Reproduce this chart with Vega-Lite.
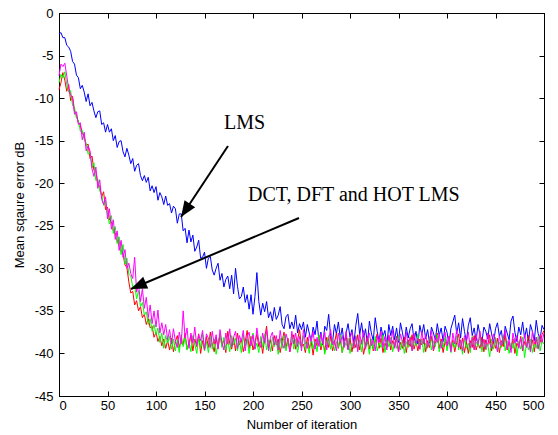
{
"$schema":"https://vega.github.io/schema/vega-lite/v6.json",
"width":485,"height":383,
"autosize":{"type":"none"},
"padding":{"left":59,"top":13,"right":14,"bottom":39},
"background":"white",
"config":{"view":{"stroke":"black","strokeWidth":1},
"axis":{"labelFont":"Liberation Sans","titleFont":"Liberation Sans","labelFontSize":13,"titleFontSize":13,"labelColor":"black","titleColor":"black","titleFontWeight":"normal","domainColor":"black","tickColor":"black","grid":false}},
"datasets":{
"arrows":[{"name":"LMS","x1":174.2,"y1":-15.63,"x2":125.8,"y2":-23.97},{"name":"TR","x1":247.4,"y1":-24.09,"x2":74.2,"y2":-32.43}],
"notes":[{"label":"LMS","x":170.1,"y":-13.63},{"label":"DCT, DFT and HOT LMS","x":194.8,"y":-22.06}],
"mse":[
{"i":0,"LMS":-2.5,"DCT":-9.0,"DFT":-8.2,"HOT":-7.4},
{"i":2,"LMS":-2.3,"DCT":-8.2,"DFT":-7.2,"HOT":-6.0},
{"i":4,"LMS":-2.9,"DCT":-7.0,"DFT":-7.6,"HOT":-6.3},
{"i":6,"LMS":-2.9,"DCT":-7.9,"DFT":-6.9,"HOT":-5.9},
{"i":8,"LMS":-3.8,"DCT":-9.2,"DFT":-8.4,"HOT":-7.4},
{"i":10,"LMS":-4.0,"DCT":-8.4,"DFT":-9.3,"HOT":-8.9},
{"i":12,"LMS":-4.5,"DCT":-10.3,"DFT":-9.1,"HOT":-9.6},
{"i":14,"LMS":-5.7,"DCT":-9.8,"DFT":-10.9,"HOT":-10.0},
{"i":16,"LMS":-6.0,"DCT":-11.5,"DFT":-11.1,"HOT":-11.9},
{"i":18,"LMS":-7.3,"DCT":-12.0,"DFT":-12.4,"HOT":-11.6},
{"i":20,"LMS":-7.6,"DCT":-12.9,"DFT":-12.6,"HOT":-13.1},
{"i":22,"LMS":-8.9,"DCT":-13.2,"DFT":-13.9,"HOT":-12.9},
{"i":24,"LMS":-8.5,"DCT":-14.1,"DFT":-13.8,"HOT":-14.9},
{"i":26,"LMS":-9.3,"DCT":-14.5,"DFT":-14.9,"HOT":-14.0},
{"i":28,"LMS":-10.4,"DCT":-15.6,"DFT":-15.3,"HOT":-16.2},
{"i":30,"LMS":-9.5,"DCT":-15.4,"DFT":-16.6,"HOT":-15.6},
{"i":32,"LMS":-10.9,"DCT":-17.1,"DFT":-16.4,"HOT":-16.2},
{"i":34,"LMS":-10.5,"DCT":-16.8,"DFT":-18.2,"HOT":-18.3},
{"i":36,"LMS":-11.5,"DCT":-18.5,"DFT":-17.6,"HOT":-19.2},
{"i":38,"LMS":-12.3,"DCT":-18.6,"DFT":-19.7,"HOT":-18.1},
{"i":40,"LMS":-11.6,"DCT":-20.0,"DFT":-19.5,"HOT":-20.6},
{"i":42,"LMS":-11.5,"DCT":-20.4,"DFT":-20.9,"HOT":-19.6},
{"i":44,"LMS":-13.1,"DCT":-21.6,"DFT":-21.3,"HOT":-21.9},
{"i":46,"LMS":-12.9,"DCT":-21.0,"DFT":-22.6,"HOT":-22.5},
{"i":48,"LMS":-14.0,"DCT":-23.1,"DFT":-22.0,"HOT":-21.6},
{"i":50,"LMS":-13.1,"DCT":-22.8,"DFT":-23.7,"HOT":-24.2},
{"i":52,"LMS":-14.0,"DCT":-24.3,"DFT":-24.8,"HOT":-23.0},
{"i":54,"LMS":-13.6,"DCT":-24.5,"DFT":-23.8,"HOT":-25.4},
{"i":56,"LMS":-15.0,"DCT":-25.6,"DFT":-25.9,"HOT":-24.3},
{"i":58,"LMS":-14.4,"DCT":-25.8,"DFT":-25.1,"HOT":-26.6},
{"i":60,"LMS":-15.8,"DCT":-26.9,"DFT":-27.1,"HOT":-25.6},
{"i":62,"LMS":-15.1,"DCT":-26.7,"DFT":-26.3,"HOT":-27.9},
{"i":64,"LMS":-15.0,"DCT":-28.0,"DFT":-28.4,"HOT":-26.7},
{"i":66,"LMS":-16.3,"DCT":-28.3,"DFT":-27.2,"HOT":-28.7},
{"i":68,"LMS":-16.9,"DCT":-29.6,"DFT":-29.5,"HOT":-27.8},
{"i":70,"LMS":-15.9,"DCT":-29.9,"DFT":-28.8,"HOT":-30.0},
{"i":72,"LMS":-16.7,"DCT":-31.6,"DFT":-30.7,"HOT":-29.4},
{"i":74,"LMS":-17.7,"DCT":-32.9,"DFT":-30.9,"HOT":-30.6},
{"i":76,"LMS":-17.1,"DCT":-32.7,"DFT":-32.2,"HOT":-31.2},
{"i":78,"LMS":-18.6,"DCT":-34.3,"DFT":-32.0,"HOT":-28.7},
{"i":80,"LMS":-17.9,"DCT":-33.8,"DFT":-33.6,"HOT":-32.8},
{"i":82,"LMS":-17.7,"DCT":-35.0,"DFT":-32.6,"HOT":-31.9},
{"i":84,"LMS":-19.1,"DCT":-34.5,"DFT":-34.5,"HOT":-33.9},
{"i":86,"LMS":-19.7,"DCT":-35.8,"DFT":-34.0,"HOT":-32.4},
{"i":88,"LMS":-19.1,"DCT":-35.4,"DFT":-35.5,"HOT":-34.7},
{"i":90,"LMS":-19.9,"DCT":-36.6,"DFT":-35.1,"HOT":-33.4},
{"i":92,"LMS":-19.3,"DCT":-35.9,"DFT":-36.6,"HOT":-35.8},
{"i":94,"LMS":-20.9,"DCT":-37.0,"DFT":-35.9,"HOT":-34.3},
{"i":96,"LMS":-20.3,"DCT":-36.8,"DFT":-37.4,"HOT":-36.5},
{"i":98,"LMS":-21.1,"DCT":-38.1,"DFT":-36.6,"HOT":-35.0},
{"i":100,"LMS":-20.4,"DCT":-37.5,"DFT":-37.8,"HOT":-36.9},
{"i":102,"LMS":-22.0,"DCT":-38.6,"DFT":-37.0,"HOT":-34.9},
{"i":104,"LMS":-21.1,"DCT":-38.0,"DFT":-38.7,"HOT":-37.6},
{"i":106,"LMS":-21.6,"DCT":-39.1,"DFT":-37.6,"HOT":-36.4},
{"i":108,"LMS":-22.5,"DCT":-38.3,"DFT":-39.4,"HOT":-37.8},
{"i":110,"LMS":-21.5,"DCT":-39.4,"DFT":-37.9,"HOT":-36.6},
{"i":112,"LMS":-22.6,"DCT":-38.5,"DFT":-38.8,"HOT":-38.4},
{"i":114,"LMS":-22.4,"DCT":-39.6,"DFT":-38.0,"HOT":-37.2},
{"i":116,"LMS":-23.5,"DCT":-38.2,"DFT":-39.5,"HOT":-38.9},
{"i":118,"LMS":-22.7,"DCT":-39.8,"DFT":-38.3,"HOT":-37.1},
{"i":120,"LMS":-23.0,"DCT":-38.6,"DFT":-39.7,"HOT":-38.6},
{"i":122,"LMS":-24.7,"DCT":-37.9,"DFT":-38.4,"HOT":-39.3},
{"i":124,"LMS":-23.6,"DCT":-39.3,"DFT":-39.9,"HOT":-37.5},
{"i":126,"LMS":-23.6,"DCT":-38.4,"DFT":-37.8,"HOT":-38.9},
{"i":128,"LMS":-25.6,"DCT":-39.0,"DFT":-39.2,"HOT":-35.0},
{"i":130,"LMS":-25.3,"DCT":-37.6,"DFT":-38.1,"HOT":-38.2},
{"i":132,"LMS":-27.0,"DCT":-39.5,"DFT":-39.6,"HOT":-37.0},
{"i":134,"LMS":-25.5,"DCT":-38.8,"DFT":-38.5,"HOT":-39.4},
{"i":136,"LMS":-26.9,"DCT":-37.9,"DFT":-39.8,"HOT":-37.6},
{"i":138,"LMS":-26.1,"DCT":-39.7,"DFT":-37.9,"HOT":-38.8},
{"i":140,"LMS":-28.0,"DCT":-38.3,"DFT":-38.9,"HOT":-36.9},
{"i":142,"LMS":-27.5,"DCT":-39.2,"DFT":-40.0,"HOT":-39.1},
{"i":144,"LMS":-26.7,"DCT":-37.7,"DFT":-38.2,"HOT":-37.8},
{"i":146,"LMS":-28.8,"DCT":-40.0,"DFT":-39.4,"HOT":-38.5},
{"i":148,"LMS":-28.7,"DCT":-38.5,"DFT":-37.6,"HOT":-37.3},
{"i":150,"LMS":-28.1,"DCT":-39.6,"DFT":-39.7,"HOT":-39.6},
{"i":152,"LMS":-30.0,"DCT":-38.0,"DFT":-38.6,"HOT":-37.7},
{"i":154,"LMS":-28.8,"DCT":-39.3,"DFT":-39.9,"HOT":-38.2},
{"i":156,"LMS":-28.6,"DCT":-37.5,"DFT":-38.0,"HOT":-39.3},
{"i":158,"LMS":-30.2,"DCT":-38.9,"DFT":-39.5,"HOT":-37.4},
{"i":160,"LMS":-30.8,"DCT":-39.8,"DFT":-38.3,"HOT":-38.9},
{"i":162,"LMS":-30.0,"DCT":-38.2,"DFT":-40.1,"HOT":-37.8},
{"i":164,"LMS":-29.4,"DCT":-39.4,"DFT":-38.7,"HOT":-39.5},
{"i":166,"LMS":-31.4,"DCT":-37.8,"DFT":-37.7,"HOT":-37.2},
{"i":168,"LMS":-30.6,"DCT":-39.1,"DFT":-39.3,"HOT":-38.7},
{"i":170,"LMS":-32.2,"DCT":-38.4,"DFT":-38.1,"HOT":-39.6},
{"i":172,"LMS":-31.3,"DCT":-39.9,"DFT":-39.6,"HOT":-37.6},
{"i":174,"LMS":-30.9,"DCT":-37.4,"DFT":-38.4,"HOT":-38.9},
{"i":176,"LMS":-32.4,"DCT":-38.8,"DFT":-39.8,"HOT":-37.1},
{"i":178,"LMS":-30.8,"DCT":-39.5,"DFT":-37.9,"HOT":-39.2},
{"i":180,"LMS":-33.0,"DCT":-38.1,"DFT":-39.0,"HOT":-38.1},
{"i":182,"LMS":-30.0,"DCT":-39.7,"DFT":-38.2,"HOT":-37.4},
{"i":184,"LMS":-32.1,"DCT":-37.6,"DFT":-39.7,"HOT":-39.4},
{"i":186,"LMS":-33.6,"DCT":-39.0,"DFT":-38.5,"HOT":-37.9},
{"i":188,"LMS":-33.3,"DCT":-38.3,"DFT":-39.9,"HOT":-38.6},
{"i":190,"LMS":-32.2,"DCT":-39.8,"DFT":-37.8,"HOT":-37.3},
{"i":192,"LMS":-34.0,"DCT":-38.6,"DFT":-39.1,"HOT":-39.7},
{"i":194,"LMS":-33.1,"DCT":-37.3,"DFT":-38.3,"HOT":-38.0},
{"i":196,"LMS":-34.8,"DCT":-39.4,"DFT":-40.0,"HOT":-37.5},
{"i":198,"LMS":-33.1,"DCT":-38.0,"DFT":-38.6,"HOT":-39.1},
{"i":200,"LMS":-35.4,"DCT":-39.6,"DFT":-37.6,"HOT":-37.8},
{"i":202,"LMS":-33.3,"DCT":-38.7,"DFT":-39.5,"HOT":-39.5},
{"i":204,"LMS":-30.5,"DCT":-37.7,"DFT":-38.8,"HOT":-37.0},
{"i":206,"LMS":-33.9,"DCT":-39.2,"DFT":-39.9,"HOT":-38.6},
{"i":208,"LMS":-35.5,"DCT":-38.5,"DFT":-38.0,"HOT":-39.3},
{"i":210,"LMS":-34.1,"DCT":-40.0,"DFT":-39.3,"HOT":-37.6},
{"i":212,"LMS":-35.1,"DCT":-38.2,"DFT":-37.7,"HOT":-38.8},
{"i":214,"LMS":-33.9,"DCT":-36.8,"DFT":-39.6,"HOT":-37.2},
{"i":216,"LMS":-35.8,"DCT":-39.3,"DFT":-38.4,"HOT":-39.7},
{"i":218,"LMS":-35.1,"DCT":-38.4,"DFT":-39.8,"HOT":-38.1},
{"i":220,"LMS":-36.2,"DCT":-39.7,"DFT":-38.1,"HOT":-37.5},
{"i":222,"LMS":-34.6,"DCT":-37.9,"DFT":-39.2,"HOT":-39.0},
{"i":224,"LMS":-36.0,"DCT":-39.0,"DFT":-38.5,"HOT":-37.9},
{"i":226,"LMS":-35.5,"DCT":-38.3,"DFT":-40.1,"HOT":-39.6},
{"i":228,"LMS":-34.5,"DCT":-39.9,"DFT":-38.2,"HOT":-37.3},
{"i":230,"LMS":-36.6,"DCT":-38.6,"DFT":-39.4,"HOT":-38.8},
{"i":232,"LMS":-37.1,"DCT":-37.5,"DFT":-37.9,"HOT":-39.4},
{"i":234,"LMS":-35.7,"DCT":-39.4,"DFT":-39.7,"HOT":-37.7},
{"i":236,"LMS":-35.4,"DCT":-38.2,"DFT":-38.6,"HOT":-38.5},
{"i":238,"LMS":-37.1,"DCT":-39.8,"DFT":-39.1,"HOT":-39.8},
{"i":240,"LMS":-36.3,"DCT":-38.7,"DFT":-37.8,"HOT":-37.4},
{"i":242,"LMS":-37.1,"DCT":-37.8,"DFT":-39.5,"HOT":-38.9},
{"i":244,"LMS":-35.5,"DCT":-39.5,"DFT":-38.3,"HOT":-37.6},
{"i":246,"LMS":-37.6,"DCT":-38.4,"DFT":-39.9,"HOT":-39.2},
{"i":248,"LMS":-36.5,"DCT":-37.2,"DFT":-38.6,"HOT":-38.0},
{"i":250,"LMS":-37.2,"DCT":-39.2,"DFT":-39.3,"HOT":-39.7},
{"i":252,"LMS":-36.3,"DCT":-38.9,"DFT":-37.9,"HOT":-37.2},
{"i":254,"LMS":-38.1,"DCT":-39.9,"DFT":-39.6,"HOT":-38.7},
{"i":256,"LMS":-36.6,"DCT":-38.1,"DFT":-38.7,"HOT":-39.4},
{"i":258,"LMS":-37.6,"DCT":-39.4,"DFT":-40.0,"HOT":-37.8},
{"i":260,"LMS":-38.5,"DCT":-38.6,"DFT":-38.1,"HOT":-38.6},
{"i":262,"LMS":-36.9,"DCT":-40.2,"DFT":-39.4,"HOT":-37.4},
{"i":264,"LMS":-37.8,"DCT":-38.3,"DFT":-38.6,"HOT":-39.5},
{"i":266,"LMS":-36.2,"DCT":-39.1,"DFT":-39.8,"HOT":-38.1},
{"i":268,"LMS":-38.6,"DCT":-37.9,"DFT":-37.8,"HOT":-39.2},
{"i":270,"LMS":-37.5,"DCT":-39.6,"DFT":-39.2,"HOT":-37.7},
{"i":272,"LMS":-39.0,"DCT":-38.5,"DFT":-38.4,"HOT":-38.9},
{"i":274,"LMS":-36.8,"DCT":-39.8,"DFT":-40.1,"HOT":-37.5},
{"i":276,"LMS":-37.3,"DCT":-38.1,"DFT":-38.9,"HOT":-39.6},
{"i":278,"LMS":-35.4,"DCT":-39.3,"DFT":-37.9,"HOT":-38.3},
{"i":280,"LMS":-37.9,"DCT":-38.0,"DFT":-39.5,"HOT":-37.2},
{"i":282,"LMS":-38.7,"DCT":-39.7,"DFT":-38.3,"HOT":-39.0},
{"i":284,"LMS":-36.6,"DCT":-38.8,"DFT":-39.7,"HOT":-38.4},
{"i":286,"LMS":-37.7,"DCT":-37.6,"DFT":-38.6,"HOT":-39.7},
{"i":288,"LMS":-36.3,"DCT":-39.4,"DFT":-39.3,"HOT":-37.6},
{"i":290,"LMS":-38.2,"DCT":-38.3,"DFT":-37.8,"HOT":-38.8},
{"i":292,"LMS":-37.0,"DCT":-39.9,"DFT":-39.9,"HOT":-37.9},
{"i":294,"LMS":-38.9,"DCT":-38.6,"DFT":-38.5,"HOT":-39.3},
{"i":296,"LMS":-37.6,"DCT":-37.9,"DFT":-39.1,"HOT":-37.4},
{"i":298,"LMS":-36.5,"DCT":-39.5,"DFT":-38.2,"HOT":-39.6},
{"i":300,"LMS":-38.1,"DCT":-38.2,"DFT":-40.0,"HOT":-38.2},
{"i":302,"LMS":-37.2,"DCT":-39.8,"DFT":-38.8,"HOT":-37.5},
{"i":304,"LMS":-38.8,"DCT":-38.5,"DFT":-39.4,"HOT":-39.4},
{"i":306,"LMS":-36.7,"DCT":-39.3,"DFT":-37.9,"HOT":-38.0},
{"i":308,"LMS":-35.3,"DCT":-37.8,"DFT":-39.6,"HOT":-39.8},
{"i":310,"LMS":-37.8,"DCT":-39.6,"DFT":-38.4,"HOT":-37.7},
{"i":312,"LMS":-36.4,"DCT":-38.4,"DFT":-39.8,"HOT":-38.9},
{"i":314,"LMS":-38.3,"DCT":-40.1,"DFT":-38.1,"HOT":-37.3},
{"i":316,"LMS":-37.1,"DCT":-38.9,"DFT":-39.3,"HOT":-39.5},
{"i":318,"LMS":-38.9,"DCT":-38.0,"DFT":-38.6,"HOT":-38.2},
{"i":320,"LMS":-36.2,"DCT":-39.5,"DFT":-40.1,"HOT":-37.6},
{"i":322,"LMS":-37.6,"DCT":-38.3,"DFT":-38.3,"HOT":-39.1},
{"i":324,"LMS":-38.5,"DCT":-39.7,"DFT":-39.5,"HOT":-38.4},
{"i":326,"LMS":-35.8,"DCT":-38.6,"DFT":-38.0,"HOT":-39.7},
{"i":328,"LMS":-37.4,"DCT":-37.7,"DFT":-39.7,"HOT":-37.9},
{"i":330,"LMS":-38.6,"DCT":-39.4,"DFT":-38.8,"HOT":-38.7},
{"i":332,"LMS":-36.9,"DCT":-38.2,"DFT":-39.3,"HOT":-37.4},
{"i":334,"LMS":-38.0,"DCT":-39.9,"DFT":-37.8,"HOT":-39.3},
{"i":336,"LMS":-37.3,"DCT":-38.8,"DFT":-39.9,"HOT":-38.0},
{"i":338,"LMS":-39.1,"DCT":-39.3,"DFT":-38.5,"HOT":-39.6},
{"i":340,"LMS":-36.6,"DCT":-37.9,"DFT":-39.2,"HOT":-37.8},
{"i":342,"LMS":-37.9,"DCT":-39.6,"DFT":-38.1,"HOT":-38.9},
{"i":344,"LMS":-36.8,"DCT":-38.5,"DFT":-39.8,"HOT":-37.3},
{"i":346,"LMS":-38.4,"DCT":-39.1,"DFT":-38.7,"HOT":-39.4},
{"i":348,"LMS":-37.0,"DCT":-38.0,"DFT":-39.4,"HOT":-38.2},
{"i":350,"LMS":-38.7,"DCT":-39.8,"DFT":-37.9,"HOT":-39.8},
{"i":352,"LMS":-36.4,"DCT":-38.7,"DFT":-39.6,"HOT":-37.7},
{"i":354,"LMS":-37.5,"DCT":-39.4,"DFT":-38.4,"HOT":-38.6},
{"i":356,"LMS":-38.8,"DCT":-38.1,"DFT":-40.0,"HOT":-39.2},
{"i":358,"LMS":-36.9,"DCT":-39.9,"DFT":-38.6,"HOT":-37.5},
{"i":360,"LMS":-38.2,"DCT":-38.4,"DFT":-39.3,"HOT":-39.0},
{"i":362,"LMS":-37.1,"DCT":-39.2,"DFT":-38.0,"HOT":-38.1},
{"i":364,"LMS":-36.5,"DCT":-37.8,"DFT":-39.7,"HOT":-39.7},
{"i":366,"LMS":-38.5,"DCT":-39.5,"DFT":-38.5,"HOT":-37.6},
{"i":368,"LMS":-37.4,"DCT":-38.6,"DFT":-39.1,"HOT":-38.8},
{"i":370,"LMS":-38.9,"DCT":-39.7,"DFT":-37.7,"HOT":-38.2},
{"i":372,"LMS":-36.7,"DCT":-38.3,"DFT":-39.5,"HOT":-39.5},
{"i":374,"LMS":-37.8,"DCT":-39.0,"DFT":-38.3,"HOT":-37.4},
{"i":376,"LMS":-36.6,"DCT":-38.2,"DFT":-39.9,"HOT":-38.9},
{"i":378,"LMS":-38.3,"DCT":-39.8,"DFT":-38.8,"HOT":-37.8},
{"i":380,"LMS":-37.2,"DCT":-38.5,"DFT":-39.4,"HOT":-39.3},
{"i":382,"LMS":-38.8,"DCT":-39.3,"DFT":-38.1,"HOT":-38.5},
{"i":384,"LMS":-36.9,"DCT":-38.0,"DFT":-39.6,"HOT":-37.3},
{"i":386,"LMS":-37.6,"DCT":-39.7,"DFT":-38.5,"HOT":-39.6},
{"i":388,"LMS":-38.4,"DCT":-38.8,"DFT":-39.2,"HOT":-38.0},
{"i":390,"LMS":-36.5,"DCT":-37.6,"DFT":-37.8,"HOT":-38.7},
{"i":392,"LMS":-37.9,"DCT":-39.4,"DFT":-39.8,"HOT":-37.7},
{"i":394,"LMS":-37.0,"DCT":-38.3,"DFT":-38.6,"HOT":-39.4},
{"i":396,"LMS":-38.6,"DCT":-39.9,"DFT":-39.3,"HOT":-38.3},
{"i":398,"LMS":-36.8,"DCT":-38.6,"DFT":-38.0,"HOT":-37.5},
{"i":400,"LMS":-37.5,"DCT":-39.2,"DFT":-39.7,"HOT":-39.1},
{"i":402,"LMS":-38.9,"DCT":-38.0,"DFT":-38.4,"HOT":-38.0},
{"i":404,"LMS":-37.1,"DCT":-39.6,"DFT":-39.9,"HOT":-39.8},
{"i":406,"LMS":-36.3,"DCT":-38.4,"DFT":-38.7,"HOT":-37.6},
{"i":408,"LMS":-35.5,"DCT":-39.8,"DFT":-39.3,"HOT":-38.9},
{"i":410,"LMS":-37.7,"DCT":-38.7,"DFT":-37.9,"HOT":-37.2},
{"i":412,"LMS":-36.4,"DCT":-37.7,"DFT":-39.6,"HOT":-39.3},
{"i":414,"LMS":-38.2,"DCT":-39.5,"DFT":-38.5,"HOT":-38.4},
{"i":416,"LMS":-35.9,"DCT":-38.2,"DFT":-40.1,"HOT":-39.7},
{"i":418,"LMS":-37.4,"DCT":-39.9,"DFT":-38.2,"HOT":-37.9},
{"i":420,"LMS":-38.6,"DCT":-38.6,"DFT":-39.4,"HOT":-38.6},
{"i":422,"LMS":-36.7,"DCT":-40.0,"DFT":-38.8,"HOT":-37.5},
{"i":424,"LMS":-35.8,"DCT":-38.5,"DFT":-39.9,"HOT":-39.4},
{"i":426,"LMS":-37.9,"DCT":-39.3,"DFT":-38.0,"HOT":-38.1},
{"i":428,"LMS":-37.0,"DCT":-37.9,"DFT":-39.5,"HOT":-39.6},
{"i":430,"LMS":-38.5,"DCT":-39.6,"DFT":-38.6,"HOT":-37.8},
{"i":432,"LMS":-36.6,"DCT":-38.8,"DFT":-39.2,"HOT":-38.9},
{"i":434,"LMS":-37.8,"DCT":-39.4,"DFT":-37.8,"HOT":-37.4},
{"i":436,"LMS":-38.7,"DCT":-38.1,"DFT":-39.8,"HOT":-39.2},
{"i":438,"LMS":-36.9,"DCT":-39.8,"DFT":-38.4,"HOT":-38.3},
{"i":440,"LMS":-37.4,"DCT":-38.4,"DFT":-39.6,"HOT":-39.5},
{"i":442,"LMS":-38.3,"DCT":-39.1,"DFT":-38.9,"HOT":-37.6},
{"i":444,"LMS":-36.5,"DCT":-37.8,"DFT":-40.4,"HOT":-38.8},
{"i":446,"LMS":-37.7,"DCT":-39.7,"DFT":-38.3,"HOT":-39.4},
{"i":448,"LMS":-38.8,"DCT":-38.6,"DFT":-39.5,"HOT":-37.7},
{"i":450,"LMS":-37.1,"DCT":-39.4,"DFT":-38.1,"HOT":-38.5},
{"i":452,"LMS":-36.4,"DCT":-38.2,"DFT":-39.8,"HOT":-39.8},
{"i":454,"LMS":-38.0,"DCT":-39.9,"DFT":-38.7,"HOT":-37.9},
{"i":456,"LMS":-37.3,"DCT":-38.5,"DFT":-39.3,"HOT":-39.1},
{"i":458,"LMS":-38.9,"DCT":-39.2,"DFT":-37.9,"HOT":-38.2},
{"i":460,"LMS":-36.8,"DCT":-37.8,"DFT":-39.7,"HOT":-37.3},
{"i":462,"LMS":-37.6,"DCT":-39.6,"DFT":-38.5,"HOT":-39.5},
{"i":464,"LMS":-38.4,"DCT":-38.7,"DFT":-40.0,"HOT":-38.4},
{"i":466,"LMS":-36.2,"DCT":-39.5,"DFT":-38.8,"HOT":-39.9},
{"i":468,"LMS":-35.6,"DCT":-38.3,"DFT":-39.4,"HOT":-37.6},
{"i":470,"LMS":-37.5,"DCT":-40.0,"DFT":-38.2,"HOT":-38.8},
{"i":472,"LMS":-38.6,"DCT":-38.8,"DFT":-40.3,"HOT":-37.9},
{"i":474,"LMS":-36.9,"DCT":-39.3,"DFT":-38.6,"HOT":-39.4},
{"i":476,"LMS":-37.8,"DCT":-38.0,"DFT":-39.5,"HOT":-38.2},
{"i":478,"LMS":-36.3,"DCT":-39.7,"DFT":-38.1,"HOT":-39.6},
{"i":480,"LMS":-38.2,"DCT":-38.6,"DFT":-40.5,"HOT":-37.7},
{"i":482,"LMS":-37.0,"DCT":-39.2,"DFT":-38.7,"HOT":-39.3},
{"i":484,"LMS":-38.7,"DCT":-37.9,"DFT":-39.6,"HOT":-38.5},
{"i":486,"LMS":-36.6,"DCT":-39.5,"DFT":-38.3,"HOT":-39.8},
{"i":488,"LMS":-37.4,"DCT":-38.4,"DFT":-39.9,"HOT":-37.4},
{"i":490,"LMS":-38.5,"DCT":-39.8,"DFT":-38.8,"HOT":-38.9},
{"i":492,"LMS":-36.1,"DCT":-38.1,"DFT":-39.4,"HOT":-38.1},
{"i":494,"LMS":-37.7,"DCT":-39.4,"DFT":-38.0,"HOT":-39.5},
{"i":496,"LMS":-38.3,"DCT":-38.7,"DFT":-39.7,"HOT":-37.8},
{"i":498,"LMS":-36.7,"DCT":-37.8,"DFT":-38.5,"HOT":-38.7},
{"i":500,"LMS":-37.2,"DCT":-37.3,"DFT":-38.9,"HOT":-37.6}
]},
"resolve":{"axis":{"x":"independent","y":"independent"}},
"layer":[
{"data":{"name":"mse"},
 "transform":[{"fold":["LMS","DCT","DFT","HOT"],"as":["alg","mse"]}],
 "mark":{"type":"line","strokeWidth":1},
 "encoding":{
  "x":{"field":"i","type":"quantitative","scale":{"domain":[0,500],"nice":false,"zero":false},
   "axis":{"orient":"bottom","values":[0,50,100,150,200,250,300,350,400,450,500],"tickSize":-5,"labelPadding":8,"domain":true,"title":"Number of iteration","titleY":28,"titleBaseline":"middle"}},
  "y":{"field":"mse","type":"quantitative","scale":{"domain":[-45,0],"nice":false,"zero":false},
   "axis":{"orient":"left","values":[-45,-40,-35,-30,-25,-20,-15,-10,-5,0],"tickSize":-5,"labelPadding":11,"labelExpr":"'' + datum.value","domain":true,"title":"Mean sqaure error dB","titleX":-40,"titleY":191.5,"titleBaseline":"middle","titleAlign":"center","titleAngle":-90}},
  "color":{"field":"alg","type":"nominal","scale":{"domain":["LMS","DCT","DFT","HOT"],"range":["#0000ff","#ff0000","#00ff00","#ff00ff"]},"legend":null}
 }},
{"data":{"name":"arrows"},
 "mark":{"type":"rule","strokeWidth":2,"color":"black"},
 "encoding":{
  "x":{"field":"x1","type":"quantitative","axis":{"orient":"top","values":[0,50,100,150,200,250,300,350,400,450,500],"tickSize":-5,"labels":false,"title":null}},
  "y":{"field":"y1","type":"quantitative","axis":{"orient":"right","values":[-45,-40,-35,-30,-25,-20,-15,-10,-5,0],"tickSize":-5,"labels":false,"title":null}},
  "x2":{"field":"x2"},"y2":{"field":"y2"}
 }},
{"data":{"name":"arrows"},
 "transform":[{"filter":"datum.name == 'LMS'"}],
 "mark":{"type":"point","filled":true,"opacity":1,"color":"black","shape":"M0,0L-0.4,1L0.4,1Z","size":1024,"angle":213.5},
 "encoding":{"x":{"field":"x2","type":"quantitative","axis":null},"y":{"field":"y2","type":"quantitative","axis":null}}},
{"data":{"name":"arrows"},
 "transform":[{"filter":"datum.name == 'TR'"}],
 "mark":{"type":"point","filled":true,"opacity":1,"color":"black","shape":"M0,0L-0.4,1L0.4,1Z","size":1024,"angle":246.9},
 "encoding":{"x":{"field":"x2","type":"quantitative","axis":null},"y":{"field":"y2","type":"quantitative","axis":null}}},
{"data":{"name":"notes"},
 "mark":{"type":"text","font":"Liberation Serif","fontSize":20,"align":"left","baseline":"alphabetic","color":"black"},
 "encoding":{"x":{"field":"x","type":"quantitative","axis":null},"y":{"field":"y","type":"quantitative","axis":null},"text":{"field":"label"}}}
]
}
